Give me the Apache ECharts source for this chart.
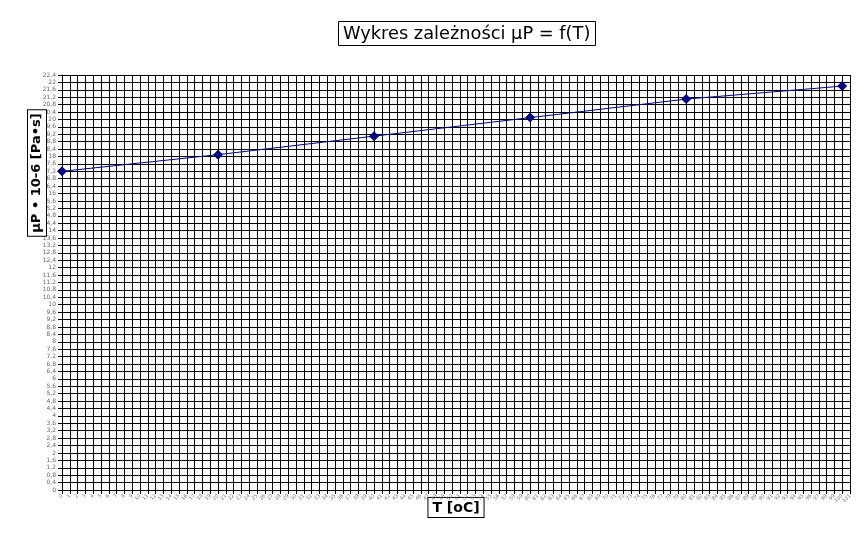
<!DOCTYPE html>
<html>
<head>
<meta charset="utf-8">
<script src="https://cdn.jsdelivr.net/npm/echarts@6/dist/echarts.min.js"></script>
<style>html,body{margin:0;padding:0;background:#fff;}#c{width:866px;height:546px;}</style>
</head>
<body>
<div id="c"></div>
<script>
var temperatures = [0, 20, 40, 60, 80, 100];
var viscosity = [17.2, 18.1, 19.1, 20.1, 21.1, 21.8];
var titleText = 'Wykres zależności µP = f(T)';
var xName = 'T [oC]';
var yName = 'µP • 10-6 [Pa•s]';

var chart = echarts.init(document.getElementById('c'));
var points = temperatures.map(function (t, i) { return [t, viscosity[i]]; });
chart.setOption({
  backgroundColor: '#fff',
  animation: false,
  title: {
    text: titleText,
    left: 338, top: 21,
    padding: [4, 5, 3, 5],
    borderColor: '#000', borderWidth: 1,
    textStyle: { fontFamily: 'DejaVu Sans', fontSize: 17.8, fontWeight: 500, color: '#000' }
  },
  grid: { left: 62, right: 16, top: 75, bottom: 56, containLabel: false },
  xAxis: {
    type: 'value', min: 0, max: 101, interval: 1,
    name: xName, nameLocation: 'middle', nameGap: 8, nameMoveOverlap: false,
    nameTextStyle: {
      fontFamily: 'DejaVu Sans', fontSize: 14, fontWeight: 'bold', color: '#000',
      borderColor: '#000', borderWidth: 1, padding: [3, 4, 2, 4], backgroundColor: '#fff'
    },
    axisLine: { lineStyle: { color: '#000', width: 1 } },
    axisTick: { show: true, length: 4, lineStyle: { color: '#000' } },
    axisLabel: { fontSize: 5, color: '#777', rotate: 45, margin: 5, fontFamily: 'DejaVu Sans' },
    splitLine: { show: true, lineStyle: { color: '#000', width: 1 } }
  },
  yAxis: {
    type: 'value', min: 0, max: 22.4, interval: 0.4,
    axisLine: { show: true, lineStyle: { color: '#000', width: 1 } },
    axisTick: { show: true, length: 4, lineStyle: { color: '#000' } },
    axisLabel: {
      fontSize: 6, color: '#666', margin: 6, fontFamily: 'DejaVu Sans',
      formatter: function (v) { return String(Math.round(v * 10) / 10).replace('.', ','); }
    },
    splitLine: { show: true, lineStyle: { color: '#000', width: 1 } }
  },
  graphic: [{
    type: 'text',
    x: 37, y: 173,
    rotation: Math.PI / 2,
    z: 100,
    style: {
      text: yName,
      font: 'bold 13px "DejaVu Sans"',
      fill: '#000',
      align: 'center', verticalAlign: 'middle',
      backgroundColor: '#fff',
      borderColor: '#000', borderWidth: 1,
      padding: [3, 3, 2, 3]
    }
  }],
  series: [{
    type: 'line',
    data: points,
    symbol: 'diamond', symbolSize: 10,
    itemStyle: { color: '#000080' },
    lineStyle: { color: '#000080', width: 1 },
    z: 5
  }]
});
</script>
</body>
</html>
